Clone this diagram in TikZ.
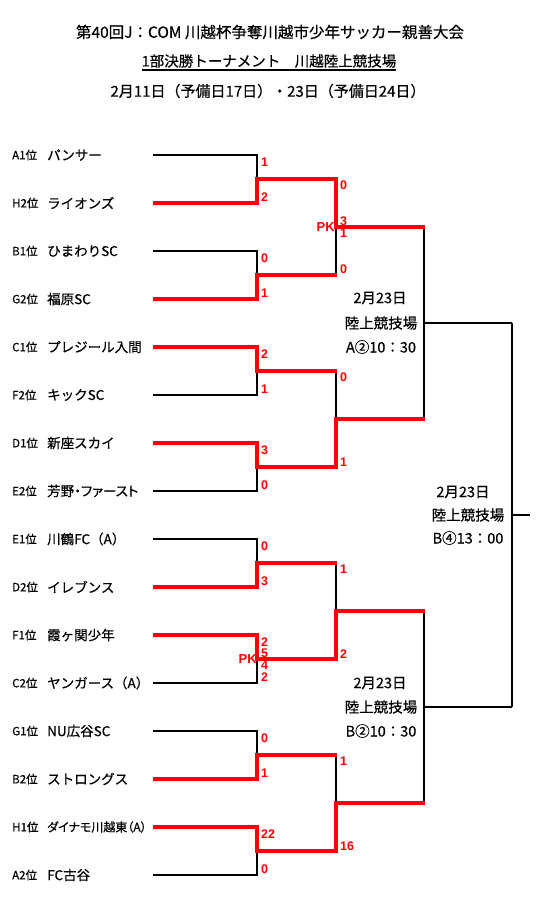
\documentclass[tikz,border=0pt]{standalone}
\usepackage{fontspec}
\setmainfont{Liberation Sans}
\newfontfamily\jp[FakeBold=0.5]{Noto Sans CJK JP}
\newfontfamily\jpp[FakeBold=0.5,RawFeature=+palt]{Noto Sans CJK JP}
\newfontfamily\lab{Liberation Sans}
\definecolor{rd}{RGB}{255,0,0}
\begin{document}
\begin{tikzpicture}[x=1pt,y=-1pt,
  bk/.style={line width=2pt,black,line join=miter},
  rw/.style={line width=4pt,rd,line join=miter},
  sc/.style={text=rd,font=\lab\bfseries\fontsize{12.5}{12.5}\selectfont,inner sep=0pt,anchor=west},
  pk/.style={text=rd,font=\lab\bfseries\fontsize{13}{13}\selectfont,inner sep=0pt,anchor=east},
  pre/.style={font=\jp\fontsize{11.5}{11.5}\selectfont,anchor=west,inner sep=0pt},
  nm/.style={anchor=west,inner sep=0pt},
  note/.style={font=\jp\fontsize{14.5}{14.5}\selectfont,inner sep=0pt},
  ttl/.style={inner sep=0pt}]
\useasboundingbox (0,0) rectangle (543,904);
\fill[white] (0,0) rectangle (543,904);

% titles
\node[ttl,font=\jp\fontsize{15.5}{15.5}\selectfont] (t1) at (270,32) {第40回J：COM 川越杯争奪川越市少年サッカー親善大会};
\node[ttl,font=\jp\fontsize{14.5}{14.5}\selectfont] (t2) at (269,61) {1部決勝トーナメント　川越陸上競技場};
\node[ttl,font=\jp\fontsize{15}{15}\selectfont] (t3) at (268,91) {2月11日（予備日17日）・23日（予備日24日）};
\draw[line width=1.3pt] (t2.west |- 0,70) -- (t2.east |- 0,70);

% teams
\foreach \i/\p/\n/\f in {1/A1位/パンサー/\jp, 2/H2位/ライオンズ/\jp, 3/B1位/ひまわりSC/\jp,
  4/G2位/福原SC/\jp, 5/C1位/プレジール入間/\jp, 6/F2位/キックSC/\jp, 7/D1位/新座スカイ/\jp,
  8/E2位/芳野・ファースト/\jpp, 9/E1位/川鶴FC（A）/\jp, 10/D2位/イレブンス/\jp,
  11/F1位/霞ヶ関少年/\jp, 12/C2位/ヤンガース（A）/\jp, 13/G1位/NU広谷SC/\jp,
  14/B2位/ストロングス/\jp, 15/H1位/ダイナモ川越東（A）/\jpp, 16/A2位/FC古谷/\jp}{
  \pgfmathsetmacro\yy{155+48*(\i-1)}
  \node[pre] (p\i) at (12,\yy) {\p};
  \ifnum\i=15
    \node[nm,font=\jpp\fontsize{12}{12}\selectfont] (n\i) at (47,\yy) {\n};
  \else
    \node[nm,font=\f\fontsize{13.5}{13.5}\selectfont] (n\i) at (47,\yy) {\n};
  \fi
  \coordinate (e\i) at (153,\yy);
  \coordinate (v\i) at (257,\yy);
}
% round 1 midpoints
\foreach \m in {1,...,8}{
  \pgfmathsetmacro\yy{179+96*(\m-1)}
  \coordinate (r\m) at (257,\yy);
  \coordinate (q\m) at (336,\yy);
}
\foreach \k in {1,...,4}{
  \pgfmathsetmacro\yy{227+192*(\k-1)}
  \coordinate (qc\k) at (336,\yy);
  \coordinate (s\k) at (424,\yy);
}
\coordinate (sc1) at (424,323); \coordinate (f1) at (512,323);
\coordinate (sc2) at (424,707); \coordinate (f2) at (512,707);
\coordinate (fc) at (512,515); \coordinate (champ) at (530,515);

% black bracket
\foreach \m in {1,...,8}{
  \pgfmathtruncatemacro\a{2*\m-1}\pgfmathtruncatemacro\b{2*\m}
  \draw[bk] (e\a) -- (v\a) -- (v\b) -- (e\b);
  \draw[bk] (r\m) -- (q\m);
}
\foreach \k in {1,...,4}{
  \pgfmathtruncatemacro\a{2*\k-1}\pgfmathtruncatemacro\b{2*\k}
  \draw[bk] (q\a) -- (q\b);
  \draw[bk] (qc\k) -- (s\k);
}
\draw[bk] (s1) -- (s2); \draw[bk] (sc1) -- (f1);
\draw[bk] (s3) -- (s4); \draw[bk] (sc2) -- (f2);
\draw[bk] (f1) -- (f2); \draw[bk] (fc) -- (champ);

% red winner paths
\draw[rw] (e2) -- (v2) -- (r1) -- (q1) -- (qc1) -- ([xshift=1pt]s1);
\draw[rw] (e4) -- (v4) -- (r2) -- ([xshift=1pt]q2);
\draw[rw] (e5) -- (v5) -- (r3) -- ([xshift=1pt]q3);
\draw[rw] (e7) -- (v7) -- (r4) -- (q4) -- (qc2) -- ([xshift=1pt]s2);
\draw[rw] (e10) -- (v10) -- (r5) -- ([xshift=1pt]q5);
\draw[rw] (e11) -- (v11) -- (r6) -- (q6) -- (qc3) -- ([xshift=1pt]s3);
\draw[rw] (e14) -- (v14) -- (r7) -- ([xshift=1pt]q7);
\draw[rw] (e15) -- (v15) -- (r8) -- (q8) -- (qc4) -- ([xshift=1pt]s4);

% round 1 scores
\node[sc] (a1) at (261,162) {1};
\node[sc] (b1) at (261,197) {2};
\node[sc] (a2) at (261,258) {0};
\node[sc] (b2) at (261,293) {1};
\node[sc] (a3) at (261,354) {2};
\node[sc] (b3) at (261,389) {1};
\node[sc] (a4) at (261,450) {3};
\node[sc] (b4) at (261,485) {0};
\node[sc] (a5) at (261,546) {0};
\node[sc] (b5) at (261,581) {3};
\node[sc] (a6) at (261,642) {2};
\node[sc] (k6a) at (261,653) {5};
\node[sc] (k6b) at (261,665) {4};
\node[sc] (b6) at (261,677) {2};
\node[pk] (pk6) at (257,659) {PK};
\node[sc] (a7) at (261,738) {0};
\node[sc] (b7) at (261,773) {1};
\node[sc] (a8) at (261,834) {22};
\node[sc] (b8) at (261,869) {0};

% quarter-final scores
\node[sc] (c1) at (340,185) {0};
\node[sc] (kq1a) at (340,221) {3};
\node[sc] (kq1b) at (340,233) {1};
\node[pk] (pkq1) at (335,227) {PK};
\node[sc] (d1) at (340,269) {0};
\node[sc] (c2) at (340,377) {0};
\node[sc] (d2) at (340,462) {1};
\node[sc] (c3) at (340,569) {1};
\node[sc] (d3) at (340,654) {2};
\node[sc] (c4) at (340,761) {1};
\node[sc] (d4) at (340,846) {16};

% match notes
\node[note] (na1) at (380,298) {2月23日};
\node[note] (na2) at (381,323) {陸上競技場};
\node[note] (na3) at (381,347) {A②10：30};
\node[note] (nb1) at (380,683) {2月23日};
\node[note] (nb2) at (381,707) {陸上競技場};
\node[note] (nb3) at (381,731) {B②10：30};
\node[note] (nf1) at (463,492) {2月23日};
\node[note] (nf2) at (468,515) {陸上競技場};
\node[note] (nf3) at (468,538) {B④13：00};
\end{tikzpicture}
\end{document}
